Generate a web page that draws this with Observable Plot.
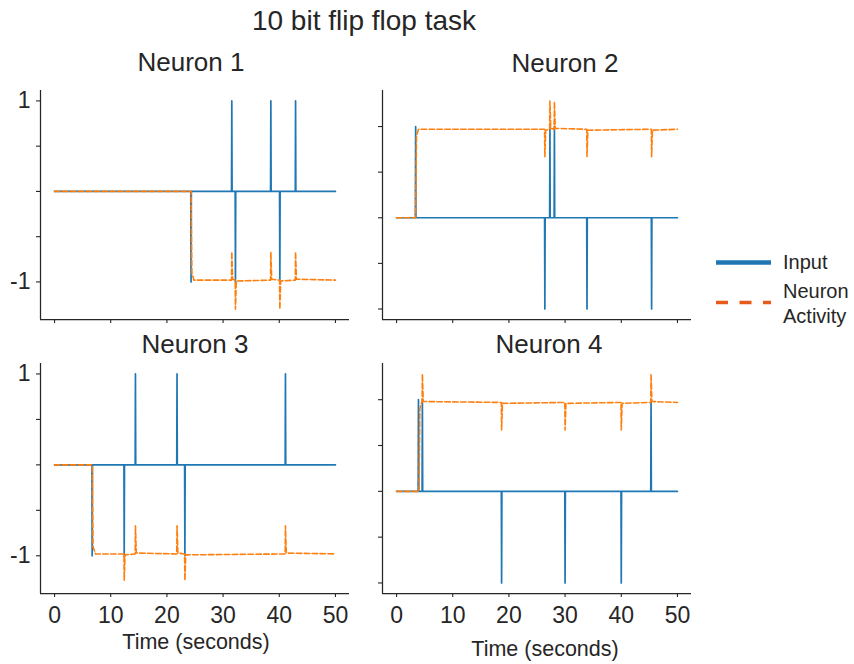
<!DOCTYPE html>
<html><head><meta charset="utf-8">
<script src="https://cdn.jsdelivr.net/npm/d3@7"></script>
<script src="https://cdn.jsdelivr.net/npm/@observablehq/plot@0.6"></script>
<style>
body{margin:0;background:#fff;}
#root{position:relative;width:854px;height:664px;background:#fff;font-family:Helvetica,Arial,"Liberation Sans",sans-serif;color:#262626;}
#root > .panel{position:absolute;}
#overlay{position:absolute;left:0;top:0;pointer-events:none;}
</style></head><body><div id="root"></div>
<script>
// ---- text ----
const chartTitle = "10 bit flip flop task";
const panelTitles = ["Neuron 1", "Neuron 2", "Neuron 3", "Neuron 4"];
const xLabel = "Time (seconds)";
const legendLabels = ["Input", "Neuron\nActivity"];
const xTicks = [0, 10, 20, 30, 40, 50];
const yTicks = [-1, -0.5, 0, 0.5, 1];
const yTickLabels = ["-1", "", "", "", "1"];

// ---- input pulses (time of pulse, value of pulse) ----
const n1InputT = [24.3, 31.55, 32.2, 38.5, 40.1, 42.9];
const n1InputV = [-1, 1, -1, 1, -1, 1];
const n2InputT = [3.4, 26.4, 27.3, 28.1, 33.9, 45.4];
const n2InputV = [1, -1, 1, 1, -1, -1];
const n3InputT = [6.7, 12.4, 14.4, 21.8, 23.2, 41.1];
const n3InputV = [-1, -1, 1, 1, -1, 1];
const n4InputT = [3.9, 4.6, 18.7, 30.0, 40.0, 45.3];
const n4InputV = [1, 1, -1, -1, -1, 1];

// ---- neuron activity (time, value) ----
const n1ActT = [0, 24.3, 24.45, 24.8, 31.5, 31.55, 31.7, 32.15, 32.2, 32.35, 38.45, 38.5, 38.65, 40.05, 40.1, 40.25, 42.85, 42.9, 43.05, 50];
const n1ActV = [0, 0, -0.9, -0.98, -0.98, -0.67, -0.97, -0.98, -1.3, -0.99, -0.98, -0.67, -0.97, -0.98, -1.3, -0.99, -0.98, -0.67, -0.97, -0.98];
const n2ActT = [0, 3.4, 3.55, 3.9, 26.35, 26.4, 26.55, 27.25, 27.3, 27.45, 28.05, 28.1, 28.25, 33.85, 33.9, 34.05, 45.35, 45.4, 45.55, 50];
const n2ActV = [0, 0, 0.9, 0.97, 0.97, 0.67, 0.96, 0.97, 1.28, 0.98, 0.97, 1.27, 0.98, 0.97, 0.67, 0.96, 0.97, 0.67, 0.96, 0.97];
const n3ActT = [0, 6.7, 6.85, 7.3, 12.35, 12.4, 12.55, 14.35, 14.4, 14.55, 21.75, 21.8, 21.95, 23.15, 23.2, 23.35, 41.05, 41.1, 41.25, 50];
const n3ActV = [0, 0, -0.9, -0.98, -0.98, -1.27, -0.99, -0.98, -0.67, -0.97, -0.98, -0.67, -0.97, -0.98, -1.27, -0.99, -0.98, -0.67, -0.97, -0.98];
const n4ActT = [0, 4.0, 4.15, 4.45, 4.55, 4.6, 4.75, 18.65, 18.7, 18.85, 29.95, 30.0, 30.15, 39.95, 40.0, 40.15, 45.25, 45.3, 45.45, 50];
const n4ActV = [0, 0, 0.9, 0.97, 0.97, 1.28, 0.98, 0.97, 0.67, 0.96, 0.97, 0.67, 0.96, 0.97, 0.67, 0.96, 0.97, 1.28, 0.98, 0.97];

const inputT = [n1InputT, n2InputT, n3InputT, n4InputT];
const inputV = [n1InputV, n2InputV, n3InputV, n4InputV];
const actT = [n1ActT, n2ActT, n3ActT, n4ActT];
const actV = [n1ActV, n2ActV, n3ActV, n4ActV];

// ---- layout ----
const blue = "#1f77b4", orange = "#ff7f0e", legendOrange = "#e65b1c", ink = "#262626";
const xDomain = [-2.5, 52.5];
const yDomainLow = [-1.415, 1.115];   // neurons that end low
const yDomainHigh = [-1.115, 1.395];  // neurons that end high
const yDomains = [yDomainLow, yDomainHigh, yDomainLow, yDomainHigh];
const panelBoxes = [
  {left: 0,   top: 80,  width: 360, height: 250, mt: 10, mb: 11},
  {left: 342, top: 80,  width: 360, height: 250, mt: 10, mb: 11},
  {left: 0,   top: 350, width: 360, height: 314, mt: 13, mb: 71},
  {left: 342, top: 350, width: 360, height: 314, mt: 13, mb: 71}
];

function inputSeries(ts, vs) {
  const pts = [{t: 0, v: 0}];
  ts.forEach((t, i) => {
    pts.push({t: t - 0.05, v: 0}, {t, v: vs[i]}, {t: t + 0.05, v: 0});
  });
  pts.push({t: 50, v: 0});
  return pts;
}
function actSeries(ts, vs) { return ts.map((t, i) => ({t, v: vs[i]})); }

const root = document.getElementById("root");
const fam = "Helvetica, Arial, 'Liberation Sans', sans-serif";

panelBoxes.forEach((b, i) => {
  const col = i % 2, row = Math.floor(i / 2);
  const yd = yDomains[i];
  const plot = Plot.plot({
    width: b.width, height: b.height,
    marginLeft: 40, marginRight: 11, marginTop: b.mt, marginBottom: b.mb,
    style: {fontFamily: fam, color: ink, background: "transparent", overflow: "visible"},
    x: {domain: xDomain},
    y: {domain: yd},
    marks: [
      Plot.axisX({ticks: xTicks, tickSize: 4, tickPadding: 9, fontSize: 23, label: null,
        tickFormat: row === 0 ? () => "" : (d) => String(d), strokeWidth: 1.1}),
      Plot.axisY({ticks: yTicks, tickSize: 4, tickPadding: 6, fontSize: 23, label: null,
        tickFormat: col === 0 ? (d) => yTickLabels[yTicks.indexOf(d)] : () => "", strokeWidth: 1.1}),
      Plot.ruleX([xDomain[0]], {stroke: ink, strokeWidth: 1.25}),
      Plot.ruleY([yd[0]], {stroke: ink, strokeWidth: 1.25}),
      Plot.line(inputSeries(inputT[i], inputV[i]), {x: "t", y: "v", stroke: blue, strokeWidth: 1.7}),
      Plot.line(actSeries(actT[i], actV[i]), {x: "t", y: "v", stroke: orange, strokeWidth: 1.6, strokeDasharray: "5.5,2.4"})
    ]
  });
  plot.classList.add("panel");
  plot.style.left = b.left + "px";
  plot.style.top = b.top + "px";
  plot.style.position = "absolute";
  root.appendChild(plot);
});

// ---- text overlay & legend ----
const ns = "http://www.w3.org/2000/svg";
const ov = document.createElementNS(ns, "svg");
ov.setAttribute("id", "overlay");
ov.setAttribute("width", 854); ov.setAttribute("height", 664);
root.appendChild(ov);
function txt(s, x, y, size, anchor) {
  const t = document.createElementNS(ns, "text");
  t.setAttribute("x", x); t.setAttribute("y", y);
  t.setAttribute("font-size", size);
  t.setAttribute("text-anchor", anchor || "middle");
  t.setAttribute("fill", ink);
  t.setAttribute("font-family", fam);
  t.textContent = s;
  ov.appendChild(t);
}
txt(chartTitle, 364, 30, 28);
const titlePos = [[191, 71], [565, 72], [195, 353], [549, 353]];
panelTitles.forEach((s, i) => txt(s, titlePos[i][0], titlePos[i][1], 26));
txt(xLabel, 196, 649, 21.5);
txt(xLabel, 545, 656, 21.5);

function seg(x1, x2, y, color, w, dash) {
  const l = document.createElementNS(ns, "line");
  l.setAttribute("x1", x1); l.setAttribute("x2", x2);
  l.setAttribute("y1", y); l.setAttribute("y2", y);
  l.setAttribute("stroke", color); l.setAttribute("stroke-width", w);
  if (dash) l.setAttribute("stroke-dasharray", dash);
  ov.appendChild(l);
}
seg(716, 771, 262.5, blue, 4.5);
seg(716, 771, 302.5, legendOrange, 3.3, "12,11.5");
txt(legendLabels[0], 783, 269, 20, "start");
const parts = legendLabels[1].split("\n");
txt(parts[0], 783, 298, 20, "start");
txt(parts[1], 783, 323, 20, "start");
</script></body></html>
